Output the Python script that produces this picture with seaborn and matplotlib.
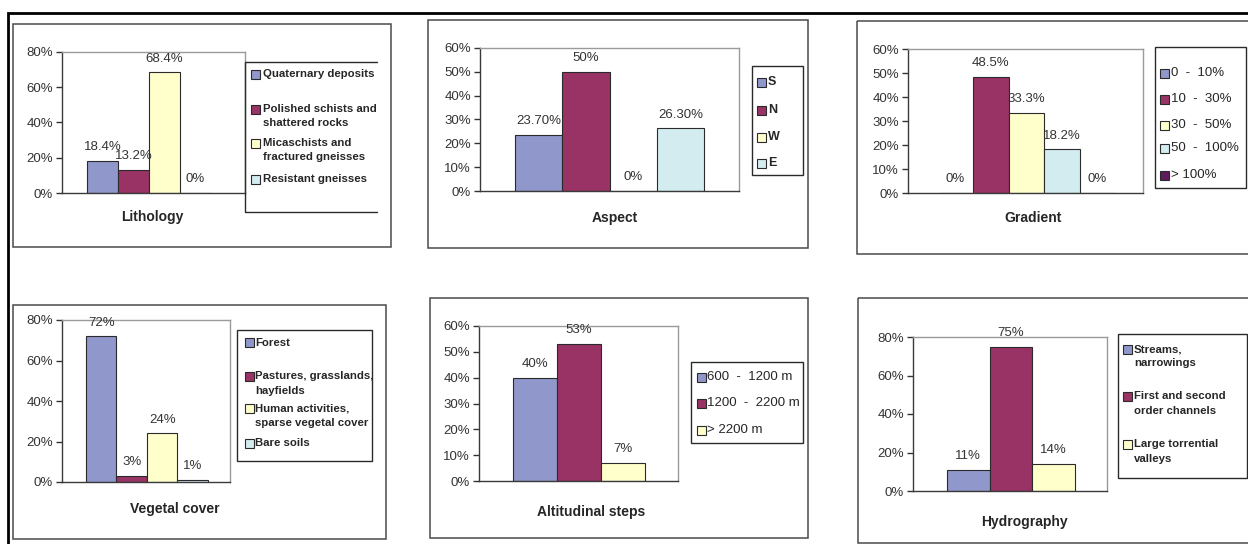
import numpy as np
import pandas as pd
import seaborn as sns
import matplotlib.pyplot as plt
from matplotlib.patches import Rectangle
from matplotlib.lines import Line2D

# ---------------- data ----------------
litho_cats = ["Quaternary deposits", "Polished schists and\nshattered rocks",
              "Micaschists and\nfractured gneisses", "Resistant gneisses"]
litho_vals = [18.4, 13.2, 68.4, 0.0]

aspect_cats = ["S", "N", "W", "E"]
aspect_vals = [23.70, 50.0, 0.0, 26.30]

gradient_cats = ["0  -  10%", "10  -  30%", "30  -  50%", "50  -  100%", "> 100%"]
gradient_vals = [0.0, 48.5, 33.3, 18.2, 0.0]

veg_cats = ["Forest", "Pastures, grasslands,\nhayfields",
            "Human activities,\nsparse vegetal cover", "Bare soils"]
veg_vals = [72, 3, 24, 1]

alt_cats = ["600  -  1200 m", "1200  -  2200 m", "> 2200 m"]
alt_vals = [40, 53, 7]

hydro_cats = ["Streams,\nnarrowings", "First and second\norder channels",
              "Large torrential\nvalleys"]
hydro_vals = [11, 75, 14]

# ---------------- style ----------------
sns.set_theme(style="white")
plt.rcParams["font.family"] = ["Liberation Sans", "DejaVu Sans"]

series_colors = ["#9098CB", "#993366", "#FFFFCC", "#D3ECEF", "#5F1A60"]
TXT = "#333333"
W, H = 1248, 544

# layout in pixel units (x from left, y from top)
panels = [
    dict(title="Lithology", cats=litho_cats, vals=litho_vals, ymax=80, ystep=20, dec=1,
         frame=(13, 24, 391, 247), plot=(62, 52, 245, 193), bars=(87, 211),
         title_xy=(152, 217), legend=(245, 62, 377, 212), open_right=True,
         rows=[74, 109, 143, 179], patch_x=251, text_x=263, bold=True, lsize=8.2),
    dict(title="Aspect", cats=aspect_cats, vals=aspect_vals, ymax=60, ystep=10, dec=2,
         frame=(428, 20, 808, 248), plot=(480, 48, 739, 191), bars=(515, 704),
         title_xy=(614.5, 218), legend=(752, 66, 803, 175), open_right=False,
         rows=[82, 110, 137, 163], patch_x=757, text_x=768, bold=True, lsize=9),
    dict(title="Gradient", cats=gradient_cats, vals=gradient_vals, ymax=60, ystep=10, dec=1,
         frame=(857, 21, 1262, 254), plot=(908, 49, 1143, 193), bars=(937.5, 1115),
         title_xy=(1033, 218), legend=(1155, 47, 1246, 188), open_right=False,
         rows=[73, 99, 125, 148, 175], patch_x=1160, text_x=1171, bold=False, lsize=9.5),
    dict(title="Vegetal cover", cats=veg_cats, vals=veg_vals, ymax=80, ystep=20, dec=0,
         frame=(13, 305, 386, 539), plot=(62, 320, 230, 482), bars=(86, 208),
         title_xy=(175, 509), legend=(237, 330, 372, 461), open_right=False,
         rows=[342.7, 376, 408.3, 443.3], patch_x=245, text_x=255, bold=True, lsize=8.2),
    dict(title="Altitudinal steps", cats=alt_cats, vals=alt_vals, ymax=60, ystep=10, dec=0,
         frame=(430, 298, 808, 538), plot=(479, 326, 678, 481), bars=(513, 645),
         title_xy=(590.7, 511.7), legend=(691, 362, 803, 443), open_right=False,
         rows=[377.3, 403.3, 430], patch_x=697, text_x=707, bold=False, lsize=9.5),
    dict(title="Hydrography", cats=hydro_cats, vals=hydro_vals, ymax=80, ystep=20, dec=0,
         frame=(858, 298, 1262, 543), plot=(913, 337, 1107, 491), bars=(947, 1075),
         title_xy=(1024, 522), legend=(1118, 334, 1247, 478), open_right=False,
         rows=[349, 396, 444], patch_x=1123, text_x=1134, bold=True, lsize=8.2),
]


def fmt(v, dec):
    if float(v).is_integer():
        return f"{v:.0f}%"
    return f"{v:.{dec}f}%"


fig = plt.figure(figsize=(W / 100, H / 100), dpi=100)
fig.patch.set_facecolor("white")

# overlay in pixel coordinates for frames, legends and titles
ov = fig.add_axes([0, 0, 1, 1], zorder=10)
ov.set_xlim(0, W)
ov.set_ylim(H, 0)
ov.axis("off")
ov.patch.set_alpha(0)

# outer black border
ov.add_line(Line2D([8, 8, W + 10], [H + 10, 12.5, 12.5], color="black", lw=2.0,
                   clip_on=False, solid_joinstyle="miter"))

for p in panels:
    n = len(p["cats"])
    colors = series_colors[:n]
    L, T, R, B = p["plot"]
    ax = fig.add_axes([L / W, 1 - B / H, (R - L) / W, (B - T) / H])

    df = pd.DataFrame({"group": [""] * n, "category": p["cats"], "value": p["vals"]})
    sns.barplot(data=df, x="group", y="value", hue="category", hue_order=p["cats"],
                palette=colors, width=1.0, dodge=True, errorbar=None, legend=False,
                edgecolor="#2a2a2a", linewidth=0.8, ax=ax, saturation=1)

    # place the bar cluster inside the plot area
    gL, gR = p["bars"]
    span = gR - gL
    ax.set_xlim(-0.5 - (gL - L) / span, 0.5 + (R - gR) / span)
    ax.set_ylim(0, p["ymax"])
    ticks = np.arange(0, p["ymax"] + 1, p["ystep"])
    ax.set_yticks(ticks)
    ax.set_yticklabels([f"{t}%" for t in ticks])
    ax.set_xticks([])
    ax.set_xlabel("")
    ax.set_ylabel("")
    ax.tick_params(axis="y", direction="out", length=4, width=1, color=TXT,
                   pad=2.5, labelsize=9.5, labelcolor=TXT, left=True)
    ax.set_facecolor("white")
    for side in ("top", "right"):
        ax.spines[side].set_color("#9a9a9a")
        ax.spines[side].set_linewidth(1.0)
    for side in ("left", "bottom"):
        ax.spines[side].set_color("#3a3a3a")
        ax.spines[side].set_linewidth(1.0)

    for cont, v in zip(ax.containers, p["vals"]):
        ax.bar_label(cont, labels=[fmt(v, p["dec"])], padding=5.5, fontsize=9.5,
                     color=TXT, clip_on=False)

    # panel frame
    fx0, fy0, fx1, fy1 = p["frame"]
    ov.add_patch(Rectangle((fx0, fy0), fx1 - fx0, fy1 - fy0, fill=False,
                           edgecolor="#4a4a4a", lw=1.1, clip_on=False))

    # axis title
    ov.text(p["title_xy"][0], p["title_xy"][1], p["title"], ha="center", va="center",
            fontsize=10, fontweight="bold", color="#262626")

    # legend box
    lx0, ly0, lx1, ly1 = p["legend"]
    if p["open_right"]:
        ov.add_line(Line2D([lx1, lx0, lx0, lx1], [ly0, ly0, ly1, ly1],
                           color="#2a2a2a", lw=1.0))
    else:
        ov.add_patch(Rectangle((lx0, ly0), lx1 - lx0, ly1 - ly0, fill=False,
                               edgecolor="#2a2a2a", lw=1.0))

    # legend entries
    size = 9
    for cat, col, ry in zip(p["cats"], colors, p["rows"]):
        ov.add_patch(Rectangle((p["patch_x"], ry - size / 2), size, size,
                               facecolor=col, edgecolor="#2a2a2a", lw=0.8))
        for i, line in enumerate(cat.split("\n")):
            ov.text(p["text_x"], ry + i * 14.5, line, ha="left", va="center",
                    fontsize=p["lsize"], fontweight="bold" if p["bold"] else "normal",
                    color="#262626")

fig.savefig("out.png", dpi=100, facecolor="white")
